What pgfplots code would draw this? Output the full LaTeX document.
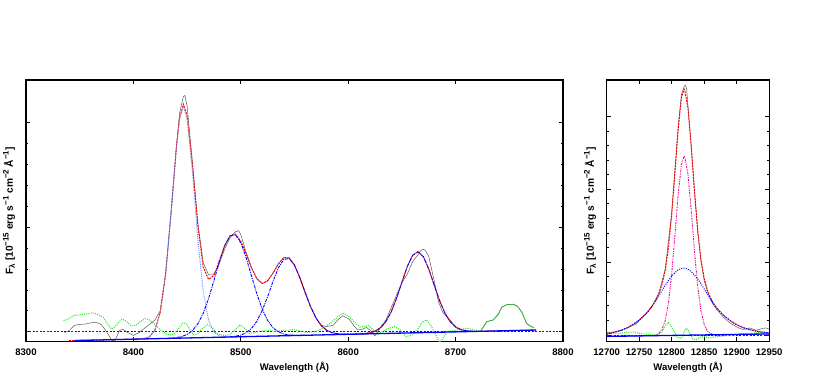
\documentclass[border=0pt]{standalone}
\usepackage{fontspec}
\setmainfont{Liberation Sans}
\usepackage{pgfplots}
\pgfplotsset{compat=1.18}
\definecolor{resgreen}{rgb}{0.15,0.92,0.15}
\definecolor{solgreen}{rgb}{0.2,0.72,0.2}
\definecolor{lightblue}{rgb}{0.45,0.55,1}
\newcommand{\sups}[1]{\raisebox{0.42em}{\fontsize{8}{8}\selectfont #1}}
\newcommand{\subs}[1]{\raisebox{-0.2em}{\fontsize{8}{8}\selectfont #1}}
\pgfplotsset{
  specax/.style={
    scale only axis, anchor=south west,
    tick align=inside, tick pos=both,
    major tick length=4bp, minor tick length=2bp,
    every tick/.style={black, line width=0.7pt},
    axis line style={line width=1.1pt},
    minor y tick num=4,
    yticklabels={},
    scaled x ticks=false,
    /pgf/number format/1000 sep={},
    /pgf/number format/assume math mode=true,
    ticklabel style={font=\bfseries\fontsize{9.6}{10}\selectfont},
    xticklabel style={yshift=-3.5bp},
    label style={font=\bfseries\fontsize{9.6}{10}\selectfont},
    ylabel style={font=\bfseries\fontsize{10.2}{11}\selectfont},
    xlabel={Wavelength (Å)},
    ylabel={F\subs{λ} [10\sups{−15} erg s\sups{−1} cm\sups{−2} Å\sups{−1}]},
    clip=true,
  },
  obs/.style={black!65, line width=0.5pt},
  fit/.style={red, line width=1pt, dash pattern=on 2pt off 1pt},
  comp/.style={blue, line width=0.9pt, dash pattern=on 3pt off 1pt on 1pt off 1pt},
  compl/.style={lightblue, line width=0.9pt, dash pattern=on 1pt off 1pt},
  cont/.style={blue, line width=1.3pt},
  res/.style={resgreen, line width=1.1pt, dash pattern=on 1pt off 1.2pt},
  zero/.style={black!85, line width=0.5pt, dash pattern=on 2pt off 1.5pt},
}
\begin{document}
\begin{tikzpicture}
\begin{axis}[specax,
  at={(26bp,35.5bp)}, width=537bp, height=261.5bp,
  xmin=8300, xmax=8800, ymin=-0.47, ymax=12.04,
  xtick={8300,8400,8500,8600,8700,8800},
  ytick={0,5,10},
  xlabel style={at={(axis description cs:0.5,-0.0975)}, anchor=center},
  ylabel style={at={(axis description cs:-0.0317,0.5)}, anchor=center},
]
\addplot[zero] coordinates {(8300,0)(8800,0)};
\addplot[res] coordinates {(8335,0.53)(8340,0.62)(8345,0.78)(8350,0.80)(8355,0.84)(8362,0.90)(8367,0.82)(8372,0.68)(8376,0.35)(8380,0.12)(8384,0.30)(8389,0.60)(8393,0.52)(8398,0.27)(8402,0.30)(8407,0.50)(8411,0.63)(8415,0.55)(8420,0.35)(8425,0.10)(8430,-0.10)(8434,-0.16)(8438,-0.10)(8442,0.15)(8446,0.42)(8449,0.40)(8452,0.15)(8456,-0.15)(8460,-0.10)(8464,0.15)(8469,0.33)(8473,0.20)(8477,-0.05)(8481,-0.15)(8485,-0.18)(8490,-0.15)(8494,0.05)(8499,0.32)(8503,0.20)(8508,-0.08)(8513,-0.05)(8518,0.03)(8525,0.05)(8532,0.02)(8540,0.05)(8549,0.10)(8556,0.02)(8562,-0.03)(8570,0.0)(8576,0.15)(8582,0.35)(8590,0.70)(8595,0.88)(8600,0.75)(8605,0.50)(8611,0.22)(8615,0.25)(8619,0.30)(8623,0.10)(8627,-0.10)(8632,0.0)(8637,0.15)(8643,0.24)(8648,0.10)(8654,-0.24)(8660,-0.15)(8664,0.05)(8669,0.45)(8673,0.56)(8677,0.30)(8681,-0.10)(8685,-0.50)(8688,-0.35)(8692,0.0)(8697,0.05)(8701,0.08)(8706,0.12)(8710,0.16)(8715,0.12)(8720,0.02)(8723,0.0)};
\addplot[obs] coordinates {(8336,-0.05)(8340,0.05)(8345,0.30)(8350,0.35)(8355,0.36)(8360,0.42)(8365,0.45)(8370,0.35)(8375,0.0)(8380,-0.42)(8383,-0.40)(8387,0.05)(8390,0.12)(8395,-0.05)(8400,-0.18)(8405,-0.05)(8410,0.15)(8415,0.35)(8420,0.55)(8425,1.0)(8430,2.75)(8435,5.64)(8440,8.85)(8443,10.45)(8446.5,11.25)(8448,11.3)(8450,10.8)(8455,8.1)(8460,5.2)(8465,3.3)(8470,2.72)(8474,2.72)(8478,3.0)(8480,3.25)(8485,3.95)(8490,4.5)(8495,4.78)(8498,4.83)(8500,4.65)(8505,3.78)(8510,3.05)(8515,2.52)(8520,2.3)(8525,2.43)(8530,2.8)(8535,3.24)(8540,3.54)(8545,3.53)(8550,3.19)(8555,2.58)(8560,1.87)(8565,1.19)(8570,0.66)(8575,0.3)(8580,0.25)(8586,0.3)(8590,0.55)(8595,0.76)(8601,0.6)(8605,0.3)(8609,0.08)(8613,0.12)(8617,0.2)(8621,0.05)(8625,-0.2)(8630,0.2)(8635,0.55)(8640,1.15)(8645,1.75)(8650,2.35)(8655,2.75)(8660,3.35)(8665,3.68)(8668,3.9)(8670,3.94)(8672,3.88)(8675,3.6)(8680,2.45)(8684,1.44)(8688,0.92)(8692,0.7)(8696,0.5)(8700,0.2)(8705,0.08)(8710,0.05)(8715,0.02)(8720,0.0)(8723,0.0)(8729,0.48)(8735,0.56)(8740,0.85)(8743,1.17)(8748,1.30)(8754,1.31)(8758,1.20)(8762,0.90)(8766,0.40)(8770,0.25)(8773,0.2)};
\addplot[solgreen, line width=0.7pt] coordinates {(8723,0.0)(8729,0.48)(8735,0.56)(8740,0.85)(8743,1.17)(8748,1.30)(8754,1.31)(8758,1.20)(8762,0.90)(8766,0.40)(8770,0.25)(8773,0.2)};
\addplot[fit] coordinates {(8340,-0.430)(8350,-0.418)(8360,-0.407)(8370,-0.395)(8380,-0.383)(8390,-0.372)(8400,-0.360)(8405,-0.351)(8410,-0.328)(8415,-0.242)(8420,0.070)(8425,0.928)(8430,2.755)(8435,5.641)(8440,8.815)(8443,10.22)(8446.5,10.88)(8450,10.344)(8455,7.952)(8460,5.076)(8465,3.092)(8470,2.50)(8475,2.682)(8480,3.402)(8485,4.127)(8490,4.595)(8495,4.666)(8500,4.332)(8505,3.724)(8510,3.049)(8515,2.526)(8520,2.308)(8525,2.432)(8530,2.806)(8535,3.247)(8540,3.540)(8545,3.533)(8550,3.188)(8555,2.583)(8560,1.866)(8565,1.192)(8570,0.655)(8575,0.287)(8580,0.066)(8585,-0.048)(8590,-0.100)(8595,-0.119)(8600,-0.122)(8610,-0.114)(8615,-0.091)(8620,-0.054)(8625,0.024)(8630,0.184)(8635,0.476)(8640,0.943)(8645,1.594)(8650,2.365)(8655,3.114)(8660,3.653)(8665,3.828)(8670,3.584)(8675,2.999)(8680,2.243)(8685,1.499)(8690,0.895)(8695,0.476)(8700,0.227)(8705,0.098)(8710,0.042)(8715,0.022)(8720,0.015)(8775,0.079)};
\addplot[compl] coordinates {(8400,-0.360)(8405,-0.351)(8410,-0.328)(8415,-0.242)(8420,0.069)(8425,0.927)(8430,2.752)(8435,5.631)(8440,8.787)(8443,10.171)(8446.5,10.795)(8450,10.179)(8455,7.605)(8460,4.410)(8465,1.926)(8470,0.542)(8475,-0.032)(8480,-0.210)(8485,-0.250)(8490,-0.255)};
\addplot[comp] coordinates {(8430,-0.322)(8435,-0.309)(8440,-0.285)(8445,-0.231)(8450,-0.136)(8455,0.052)(8460,0.376)(8465,0.882)(8470,1.584)(8475,2.442)(8480,3.341)(8485,4.114)(8490,4.584)(8495,4.635)(8500,4.253)(8505,3.540)(8510,2.663)(8515,1.798)(8520,1.071)(8525,0.536)(8530,0.190)(8535,-0.009)(8540,-0.111)(8545,-0.156)(8550,-0.171)(8555,-0.174)(8560,-0.173)};
\addplot[comp] coordinates {(8490,-0.244)(8495,-0.218)(8500,-0.164)(8505,-0.053)(8510,0.155)(8515,0.503)(8520,1.018)(8525,1.682)(8530,2.408)(8535,3.054)(8540,3.455)(8545,3.499)(8550,3.175)(8555,2.579)(8560,1.866)(8565,1.192)(8570,0.655)(8575,0.287)(8580,0.066)(8585,-0.048)(8590,-0.100)(8595,-0.119)(8600,-0.122)(8605,-0.120)};
\addplot[comp] coordinates {(8605,-0.120)(8610,-0.114)(8615,-0.091)(8620,-0.054)(8625,0.024)(8630,0.184)(8635,0.476)(8640,0.943)(8645,1.594)(8650,2.365)(8655,3.114)(8660,3.653)(8665,3.828)(8670,3.584)(8675,2.999)(8680,2.243)(8685,1.499)(8690,0.895)(8695,0.476)(8700,0.227)(8705,0.098)(8710,0.042)(8715,0.022)(8720,0.015)};
\addplot[cont] coordinates {(8345,-0.424)(8775,0.079)};
\end{axis}

\begin{axis}[specax,
  at={(606.7bp,35.5bp)}, width=162.5bp, height=261.5bp,
  xmin=12700, xmax=12950, ymin=-0.45, ymax=17.5,
  xtick={12700,12750,12800,12850,12900,12950},
  ytick={0,5,10,15},
  xlabel style={at={(axis description cs:0.5,-0.0975)}, anchor=center},
  ylabel style={at={(axis description cs:-0.103,0.5)}, anchor=center},
]
\addplot[zero] coordinates {(12700,0)(12950,0)};
\addplot[res] coordinates {(12700,0.2)(12705,0.16)(12712,0.12)(12720,0.1)(12730,0.18)(12741,0.2)(12750,0.12)(12761,0.05)(12770,0.0)(12777,0.0)(12783,0.15)(12787,0.34)(12791,0.7)(12795,0.85)(12799,0.6)(12803,0.3)(12808,-0.1)(12812,-0.22)(12816,-0.15)(12819,0.2)(12822,0.46)(12825,0.35)(12829,0.0)(12833,-0.3)(12837,-0.34)(12842,-0.2)(12849,-0.1)(12855,-0.18)(12860,-0.2)(12867,-0.12)(12874,-0.1)(12884,-0.05)(12895,0.0)(12905,0.05)(12915,0.1)(12925,0.12)(12935,0.16)(12942,0.2)(12948,0.12)};
\addplot[obs] coordinates {(12700,0.15)(12710,0.2)(12720,0.3)(12730,0.45)(12737,0.6)(12745,0.75)(12750,0.98)(12760,1.45)(12770,2.0)(12780,2.85)(12790,4.5)(12800,8.4)(12805,11.3)(12810,14.3)(12815,16.5)(12819,17.05)(12821,17.14)(12823,16.9)(12825,15.7)(12830,13.0)(12835,9.9)(12840,7.1)(12845,5.05)(12850,3.75)(12855,2.95)(12860,2.4)(12865,2.0)(12870,1.7)(12875,1.45)(12880,1.2)(12885,1.0)(12890,0.8)(12895,0.68)(12900,0.55)(12905,0.45)(12910,0.38)(12915,0.42)(12920,0.48)(12925,0.4)(12930,0.32)(12935,0.38)(12940,0.45)(12945,0.48)(12950,0.4)};
\addplot[fit] coordinates {(12700,0.06)(12705,0.10)(12710,0.16)(12715,0.22)(12720,0.28)(12725,0.36)(12730,0.46)(12735,0.57)(12740,0.71)(12745,0.85)(12750,1.02)(12755,1.22)(12760,1.43)(12765,1.69)(12770,1.99)(12775,2.35)(12780,2.80)(12785,3.45)(12790,4.43)(12795,5.98)(12800,8.27)(12805,11.17)(12810,14.15)(12815,16.29)(12819,16.88)(12820,16.83)(12825,15.57)(12830,12.95)(12835,9.88)(12840,7.19)(12845,5.19)(12850,3.88)(12855,3.07)(12860,2.52)(12865,2.12)(12870,1.81)(12875,1.56)(12880,1.34)(12885,1.16)(12890,0.98)(12895,0.83)(12900,0.71)(12905,0.60)(12910,0.50)(12915,0.43)(12920,0.37)(12925,0.31)(12930,0.26)(12935,0.225)(12940,0.19)(12945,0.17)(12950,0.14)};
\addplot[magenta, line width=0.9pt, dash pattern=on 2pt off 1pt on 0.8pt off 1pt on 0.8pt off 1pt] coordinates {(12700,-0.10)(12770,-0.052)(12775,-0.01)(12780,0.09)(12785,0.36)(12790,0.98)(12795,2.20)(12800,4.20)(12805,6.86)(12810,9.66)(12815,11.71)(12819,12.28)(12820,12.24)(12825,11.05)(12830,8.59)(12835,5.76)(12840,3.33)(12845,1.66)(12850,0.72)(12855,0.27)(12860,0.09)(12865,0.035)(12870,0.016)(12950,0.07)};
\addplot[blue, line width=1pt, dash pattern=on 1pt off 1.3pt] coordinates {(12700,0.06)(12705,0.10)(12710,0.16)(12715,0.22)(12720,0.28)(12725,0.36)(12730,0.46)(12735,0.57)(12740,0.71)(12745,0.85)(12750,1.02)(12755,1.22)(12760,1.43)(12765,1.69)(12770,1.98)(12775,2.31)(12780,2.66)(12785,3.05)(12790,3.41)(12795,3.74)(12800,4.04)(12805,4.28)(12810,4.47)(12815,4.56)(12819,4.58)(12820,4.57)(12825,4.51)(12830,4.35)(12835,4.11)(12840,3.85)(12845,3.52)(12850,3.16)(12855,2.80)(12860,2.43)(12865,2.10)(12870,1.81)(12875,1.56)(12880,1.34)(12885,1.16)(12890,0.98)(12895,0.83)(12900,0.71)(12905,0.60)(12910,0.50)(12915,0.43)(12920,0.37)(12925,0.31)(12930,0.26)(12935,0.225)(12940,0.19)(12945,0.17)(12950,0.14)};
\addplot[cont] coordinates {(12700,-0.10)(12950,0.07)};
\end{axis}
\pgfresetboundingbox
\path (0,0) rectangle (830bp,377bp);
\end{tikzpicture}
\end{document}
